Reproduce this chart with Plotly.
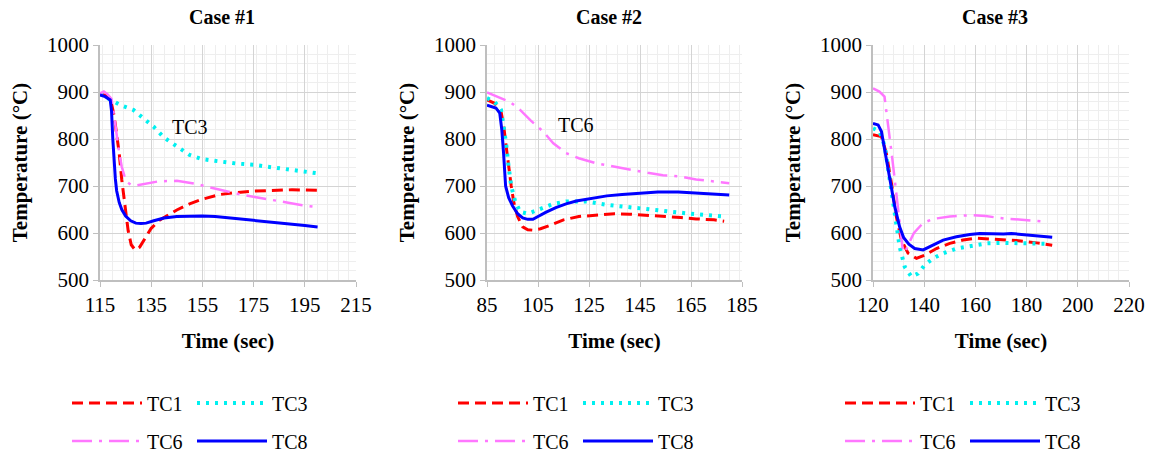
import plotly.graph_objects as go

# ---------------- data ----------------
case_titles = ["Case #1", "Case #2", "Case #3"]
series_names = ["TC1", "TC3", "TC6", "TC8"]

# Case 1
c1_tc1_t = [115, 117, 119, 120.5, 121.5, 122.5, 123.5, 124.8, 126, 127.2, 128.7, 130.5, 133, 135, 138.4, 142, 145, 150, 155, 162, 168, 175, 182, 190, 200]
c1_tc1_v = [895, 893, 887, 850, 810, 770, 713, 656, 605, 575, 564, 570, 592, 610, 628, 640, 649, 662, 672, 682, 686, 689, 691, 692, 691]
c1_tc3_t = [115, 119, 123, 128, 132, 136, 140, 145, 150, 155, 162, 168, 175, 181, 188, 194, 200]
c1_tc3_v = [896, 883, 872, 862, 844, 826, 803, 784, 766, 757, 752, 748, 745, 741, 736, 732, 727]
c1_tc6_t = [115, 116.5, 118, 119.5, 120.5, 121.5, 122.5, 123.5, 124.5, 125.5, 127, 129, 133, 138, 145, 152, 158, 164, 170, 176, 182, 188, 194, 200]
c1_tc6_v = [897, 901, 895, 885, 850, 805, 770, 741, 722, 709, 703, 701, 705, 710, 711, 705, 697, 689, 682, 676, 671, 665, 659, 655]
c1_tc8_t = [115, 117, 119, 119.5, 120, 120.5, 121, 121.5, 122.5, 123.5, 125, 127, 129, 131, 133, 136, 140, 145, 150, 155, 160, 166, 172, 180, 188, 195, 200]
c1_tc8_v = [894, 890, 883, 860, 800, 750, 715, 690, 665, 650, 636, 626, 621, 620, 621, 626, 632, 635, 636, 636, 635, 632, 628, 624, 620, 616, 613]

# Case 2
c2_tc1_t = [85, 88, 90.5, 91.5, 92.5, 93.5, 94.5, 95.5, 97, 99, 101, 103, 106, 110, 115, 121, 128, 135, 141, 148, 154, 161, 167, 174, 178]
c2_tc1_v = [883, 876, 858, 830, 785, 740, 700, 665, 635, 613, 607, 606, 609, 617, 628, 635, 638, 641, 640, 638, 635, 633, 630, 628, 625]
c2_tc3_t = [85, 88, 90.5, 91.5, 92.5, 93.5, 94.5, 96, 98, 101, 103, 106, 111, 116, 124, 132, 140, 148, 155, 163, 171, 178]
c2_tc3_v = [887, 879, 862, 830, 790, 740, 700, 668, 645, 641, 645, 652, 662, 667, 667, 660, 655, 650, 645, 642, 638, 635]
c2_tc6_t = [85, 90, 94, 98, 102, 107, 111, 116, 121, 128, 135, 141, 148, 154, 161, 167, 174, 180]
c2_tc6_v = [899, 887, 879, 862, 840, 816, 791, 770, 759, 748, 741, 734, 728, 723, 720, 714, 709, 706]
c2_tc8_t = [85, 88.5, 90, 90.8, 91.5, 92.3, 93.5, 95, 97, 99, 101, 103, 105, 108, 112, 116, 120, 125, 132, 138, 145, 152, 160, 167, 174, 180]
c2_tc8_v = [872, 866, 855, 820, 770, 700, 675, 658, 641, 632, 629, 629, 635, 644, 654, 662, 668, 672, 679, 682, 685, 687, 687, 685, 682, 681]

# Case 3
c3_tc1_t = [120, 123.3, 125.2, 127.2, 129.1, 131.1, 133.7, 137, 140.2, 144.8, 150, 155.2, 160.4, 168.2, 176, 184, 190]
c3_tc1_v = [809, 805, 770, 706, 635, 585, 557, 546, 553, 567, 578, 585, 589, 587, 584, 579, 574]
c3_tc3_t = [120, 122.6, 124.6, 126.5, 128.5, 130.4, 132.4, 135, 137.6, 140.2, 143.5, 147.4, 152.6, 157.8, 164.3, 170.8, 178.6, 189]
c3_tc3_v = [823, 816, 784, 720, 642, 571, 528, 507, 514, 532, 546, 557, 567, 572, 578, 579, 578, 577]
c3_tc6_t = [120, 122.5, 124.5, 125.5, 126.5, 127.5, 128.5, 129.5, 130.5, 131.5, 132.5, 134, 136, 139.5, 143.5, 150, 158, 164, 171, 177, 183, 188]
c3_tc6_v = [908, 901, 890, 850, 800, 760, 713, 665, 610, 570, 558, 578, 600, 621, 630, 635, 638, 636, 631, 628, 626, 624]
c3_tc8_t = [120, 122, 123.3, 124.6, 126.5, 128.5, 130.4, 132, 134, 136.3, 139.6, 143.5, 147.4, 152.6, 157.8, 161.7, 166, 171, 174, 177.4, 184, 190]
c3_tc8_v = [833, 830, 816, 777, 713, 656, 613, 590, 576, 567, 564, 574, 585, 592, 597, 599, 598, 598, 599, 597, 594, 591]

x_ranges = [[115, 215], [85, 185], [120, 220]]
y_range = [500, 1000]

annot_labels = ["TC3", "TC6"]
annot_t = [150, 120]
annot_v = [826, 830]

# ---------------- styling ----------------
W, H = 1155, 456
FONT = "Liberation Serif, Times New Roman, serif"
styles = {
    "TC1": dict(color="#ff0000", width=3, dash="11px,6px"),
    "TC3": dict(color="#00f0f0", width=4, dash="3px,6px"),
    "TC6": dict(color="#ff77ff", width=2.5, dash="20px,7px,3px,7px"),
    "TC8": dict(color="#0000ff", width=3, dash="solid"),
}

cases = [
    [(c1_tc1_t, c1_tc1_v), (c1_tc3_t, c1_tc3_v), (c1_tc6_t, c1_tc6_v), (c1_tc8_t, c1_tc8_v)],
    [(c2_tc1_t, c2_tc1_v), (c2_tc3_t, c2_tc3_v), (c2_tc6_t, c2_tc6_v), (c2_tc8_t, c2_tc8_v)],
    [(c3_tc1_t, c3_tc1_v), (c3_tc3_t, c3_tc3_v), (c3_tc6_t, c3_tc6_v), (c3_tc8_t, c3_tc8_v)],
]

plot_px = [(100, 356), (487, 742), (873, 1129)]
y_top, y_bot = 45, 280
legend_x_px = [67, 453, 840]
legend_rows_px = [403, 441]

fig = go.Figure()
layout = dict(
    width=W, height=H,
    margin=dict(l=0, r=0, t=0, b=0, autoexpand=False),
    paper_bgcolor="white", plot_bgcolor="white",
    font=dict(family=FONT, size=20, color="black"),
    annotations=[],
)

for ci, data in enumerate(cases):
    ax_suffix = "" if ci == 0 else str(ci + 1)
    for si, name in enumerate(series_names):
        row = 0 if si < 2 else 1
        leg_num = ci * 2 + row + 1
        leg_name = "legend" if leg_num == 1 else f"legend{leg_num}"
        t, v = data[si]
        fig.add_trace(go.Scatter(
            x=t, y=v, mode="lines", name=name,
            line=styles[name],
            xaxis="x" + ax_suffix, yaxis="y" + ax_suffix,
            legend=leg_name,
        ))
    x0, x1 = plot_px[ci]
    dom_x = [x0 / W, x1 / W]
    dom_y = [1 - y_bot / H, 1 - y_top / H]
    common = dict(
        showgrid=True, gridcolor="#d4d4d4", gridwidth=1,
        showline=True, linecolor="#bfbfbf", linewidth=1.5,
        ticks="outside", ticklen=5, tickcolor="#bfbfbf", tickwidth=1,
        tickfont=dict(family=FONT, size=21, color="black"),
        zeroline=False, fixedrange=True, automargin=False,
    )
    layout["xaxis" + ax_suffix] = dict(
        common, domain=dom_x, range=x_ranges[ci], dtick=20, tick0=x_ranges[ci][0],
        anchor="y" + ax_suffix,
        minor=dict(dtick=4, showgrid=True, gridcolor="#eeeeee", ticks=""),
        title=dict(text="<b>Time (sec)</b>", font=dict(family=FONT, size=21), standoff=17),
    )
    layout["yaxis" + ax_suffix] = dict(
        common, domain=dom_y, range=y_range, dtick=100, anchor="x" + ax_suffix,
        minor=dict(dtick=20, showgrid=True, gridcolor="#eeeeee", ticks=""),
        title=dict(text="<b>Temperature (°C)</b>", font=dict(family=FONT, size=21), standoff=14),
    )
    layout["annotations"].append(dict(
        text=f"<b>{case_titles[ci]}</b>", xref="paper", yref="paper",
        x=((x0 + x1) / 2 - 6) / W, y=1 - 17 / H, xanchor="center", yanchor="middle",
        showarrow=False, font=dict(family=FONT, size=20, color="black"),
    ))
    for row in range(2):
        leg_num = ci * 2 + row + 1
        leg_name = "legend" if leg_num == 1 else f"legend{leg_num}"
        layout[leg_name] = dict(
            orientation="h", x=legend_x_px[ci] / W, xanchor="left",
            y=1 - legend_rows_px[row] / H, yanchor="middle",
            font=dict(family=FONT, size=20, color="black"),
            bgcolor="rgba(0,0,0,0)", itemwidth=70, entrywidth=40,
            traceorder="normal",
        )

for ai, lab in enumerate(annot_labels):
    sfx = "" if ai == 0 else str(ai + 1)
    layout["annotations"].append(dict(
        text=lab, x=annot_t[ai], y=annot_v[ai], xref="x" + sfx, yref="y" + sfx,
        showarrow=False, font=dict(family=FONT, size=20, color="black"),
    ))

fig.update_layout(**layout)
fig.write_html("out.html")
